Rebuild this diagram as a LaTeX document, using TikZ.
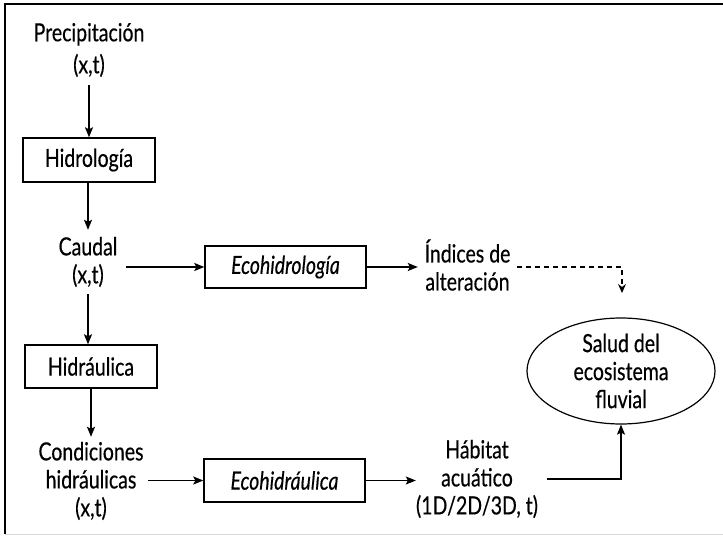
\documentclass[tikz,border=0pt]{standalone}
\usepackage{fontspec}
\setmainfont{Lato}[FakeStretch=0.78, FakeBold=0.4]
\usetikzlibrary{arrows.meta,shapes.geometric}
\begin{document}
\begin{tikzpicture}[x=1pt,y=-1pt,
  font=\fontsize{25}{28}\selectfont,
  box/.style={draw, line width=1.4pt, minimum width=132pt, minimum height=44pt, inner sep=0pt},
  ebox/.style={box, minimum width=161pt, minimum height=42pt, font=\fontsize{25}{28}\selectfont\itshape},
  txt/.style={align=center, inner sep=0pt},
  arr/.style={-{Stealth[length=10pt,width=8pt,inset=2pt]}, line width=1.3pt},
  darr/.style={-{Stealth[length=9pt,width=8pt,inset=3pt]}, line width=1.1pt, dash pattern=on 5pt off 4pt}
]
\useasboundingbox (0,0) rectangle (723,537);
\draw[line width=1.6pt] (723,4) -- (5,4) -- (5,534);
\draw[black!15, line width=1pt] (5,534) -- (723,534);

\node[txt, minimum height=70pt] (precip) at (89,50) {Precipitación\\[4pt](x,t)};
\node[box] (hidrologia) at (89,160) {Hidrología};
\node[txt, minimum width=76pt, minimum height=64pt] (caudal) at (88,262) {Caudal\\(x,t)};
\node[ebox] (ecohidro) at (285.5,267) {Ecohidrología};
\node[txt, minimum width=99pt] (indices) at (467.5,265) {Índices de\\alteración};
\node[box, minimum height=43pt] (hidraulica) at (91,366.5) {Hidráulica};
\node[txt, minimum width=114pt, minimum height=88pt] (cond) at (91,481) {Condiciones\\hidráulicas\\(x,t)};
\node[ebox, minimum height=43pt] (ecohidra) at (284.5,480.5) {Ecohidráulica};
\node[txt, minimum width=118pt] (habitat) at (477,479) {Hábitat\\acuático\\(1D/2D/3D, t)};
\node[draw, ellipse, line width=1.2pt, minimum width=188pt, minimum height=106pt, inner sep=0pt, align=center] (salud) at (621,371) {Salud del\\ecosistema\\fluvial};
\coordinate (dtip) at (622,293);

\draw[arr] (precip.south) -- (precip.south |- hidrologia.north);
\draw[arr] (hidrologia.south -| caudal.north) -- (caudal.north);
\draw[arr] (caudal.east |- ecohidro.west) -- (ecohidro.west);
\draw[arr] (ecohidro.east) -- (indices.west |- ecohidro.east);
\draw[darr] (indices.east |- ecohidro.east) -| (dtip);
\draw[arr] (caudal.south) -- (caudal.south |- hidraulica.north);
\draw[arr] (hidraulica.south) -- (hidraulica.south |- cond.north);
\draw[arr] (cond.east |- ecohidra.west) -- (ecohidra.west);
\draw[arr] (ecohidra.east) -- (habitat.west |- ecohidra.east);
\draw[arr] ([xshift=9pt]habitat.east) -| (salud.south);
\end{tikzpicture}
\end{document}
